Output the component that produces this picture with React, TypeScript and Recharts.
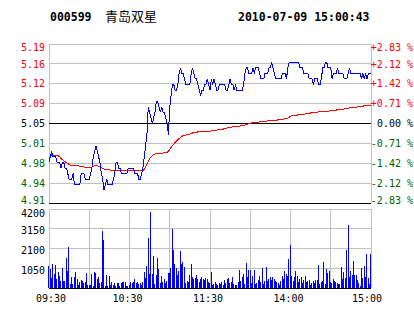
import { LineChart, Line, BarChart, Bar, XAxis, YAxis, CartesianGrid, ReferenceLine } from 'recharts'

const stockCode = '000599'
const stockName = '青岛双星'
const stamp = '2010-07-09 15:00:43'
const prevClose = 5.05

const pctTicks = [-2.83, -2.12, -1.42, -0.71, 0, 0.71, 1.42, 2.12, 2.83]
const volTicks = [0, 1050, 2100, 3150, 4200]
const timeTicks = [0, 30, 60, 90, 120, 150, 180, 210, 240]
const timeLabels = ['09:30', '', '10:30', '', '11:30', '', '14:00', '', '15:00']

// one value per minute, 09:30 .. 11:30 / 13:00 .. 15:00
const price = [
  4.98, 4.99, 5.00, 4.99, 4.99, 4.99, 4.98, 4.98, 4.98, 4.97,
  4.98, 4.98, 4.97, 4.97, 4.96, 4.95, 4.95, 4.95, 4.96, 4.94,
  4.94, 4.94, 4.94, 4.94, 4.96, 4.96, 4.96, 4.95, 4.95, 4.95,
  4.95, 4.96, 4.97, 4.99, 5.00, 5.01, 5.00, 4.99, 4.98, 4.96,
  4.95, 4.93, 4.94, 4.95, 4.94, 4.94, 4.94, 4.94, 4.95, 4.96,
  4.98, 4.98, 4.97, 4.97, 4.96, 4.96, 4.96, 4.96, 4.96, 4.97,
  4.97, 4.97, 4.97, 4.97, 4.96, 4.96, 4.96, 4.95, 4.95, 4.96,
  4.97, 4.99, 5.01, 5.03, 5.08, 5.07, 5.06, 5.05, 5.06, 5.07,
  5.09, 5.09, 5.08, 5.07, 5.08, 5.07, 5.07, 5.06, 5.05, 5.03,
  5.08, 5.10, 5.12, 5.12, 5.11, 5.11, 5.12, 5.14, 5.15, 5.14,
  5.14, 5.13, 5.12, 5.12, 5.12, 5.12, 5.14, 5.15, 5.14, 5.13,
  5.13, 5.12, 5.11, 5.10, 5.11, 5.11, 5.12, 5.12, 5.13, 5.12,
  5.11, 5.13, 5.12, 5.13, 5.12, 5.11, 5.11, 5.12, 5.12, 5.12,
  5.12, 5.12, 5.11, 5.11, 5.12, 5.13, 5.12, 5.12, 5.11, 5.12,
  5.11, 5.11, 5.11, 5.11, 5.11, 5.12, 5.14, 5.15, 5.15, 5.14,
  5.14, 5.14, 5.15, 5.14, 5.15, 5.15, 5.15, 5.14, 5.13, 5.13,
  5.13, 5.14, 5.14, 5.14, 5.15, 5.15, 5.16, 5.15, 5.14, 5.13,
  5.13, 5.13, 5.13, 5.13, 5.14, 5.14, 5.14, 5.13, 5.15, 5.16,
  5.16, 5.16, 5.16, 5.16, 5.16, 5.16, 5.16, 5.15, 5.15, 5.15,
  5.14, 5.14, 5.14, 5.14, 5.13, 5.13, 5.13, 5.12, 5.13, 5.13,
  5.13, 5.12, 5.12, 5.13, 5.15, 5.15, 5.16, 5.16, 5.15, 5.15,
  5.15, 5.13, 5.14, 5.14, 5.14, 5.15, 5.14, 5.14, 5.14, 5.14,
  5.13, 5.13, 5.13, 5.14, 5.15, 5.14, 5.14, 5.14, 5.14, 5.14,
  5.14, 5.14, 5.14, 5.13, 5.14, 5.13, 5.14, 5.13, 5.14, 5.14,
  5.14,
]

const avgPrice = [
  4.985, 4.990, 4.994, 4.993, 4.993, 4.993, 4.993, 4.992, 4.990, 4.987,
  4.985, 4.983, 4.981, 4.980, 4.978, 4.976, 4.975, 4.974, 4.974, 4.974,
  4.974, 4.974, 4.974, 4.973, 4.973, 4.973, 4.972, 4.971, 4.971, 4.971,
  4.971, 4.971, 4.972, 4.973, 4.974, 4.974, 4.974, 4.973, 4.972, 4.971,
  4.969, 4.968, 4.967, 4.967, 4.967, 4.967, 4.966, 4.965, 4.965, 4.965,
  4.965, 4.965, 4.965, 4.965, 4.965, 4.965, 4.965, 4.965, 4.965, 4.965,
  4.965, 4.965, 4.965, 4.965, 4.965, 4.965, 4.965, 4.965, 4.965, 4.965,
  4.965, 4.968, 4.972, 4.977, 4.982, 4.987, 4.990, 4.992, 4.994, 4.995,
  4.996, 4.996, 4.996, 4.996, 4.996, 4.997, 4.997, 4.997, 4.998, 5.000,
  5.003, 5.007, 5.010, 5.013, 5.016, 5.018, 5.021, 5.023, 5.025, 5.027,
  5.028, 5.029, 5.029, 5.030, 5.030, 5.031, 5.032, 5.033, 5.033, 5.034,
  5.034, 5.035, 5.036, 5.036, 5.036, 5.036, 5.036, 5.036, 5.036, 5.036,
  5.036, 5.037, 5.037, 5.038, 5.038, 5.038, 5.039, 5.039, 5.040, 5.040,
  5.040, 5.041, 5.041, 5.042, 5.042, 5.043, 5.043, 5.044, 5.044, 5.044,
  5.045, 5.045, 5.045, 5.046, 5.046, 5.047, 5.047, 5.048, 5.049, 5.050,
  5.050, 5.051, 5.051, 5.051, 5.052, 5.052, 5.052, 5.053, 5.053, 5.053,
  5.054, 5.054, 5.054, 5.055, 5.055, 5.055, 5.055, 5.056, 5.056, 5.056,
  5.056, 5.057, 5.057, 5.057, 5.058, 5.058, 5.059, 5.059, 5.060, 5.061,
  5.063, 5.064, 5.064, 5.065, 5.065, 5.065, 5.066, 5.066, 5.066, 5.067,
  5.067, 5.067, 5.068, 5.068, 5.068, 5.069, 5.069, 5.069, 5.070, 5.070,
  5.070, 5.071, 5.071, 5.071, 5.071, 5.072, 5.072, 5.072, 5.072, 5.073,
  5.073, 5.074, 5.074, 5.074, 5.074, 5.075, 5.075, 5.075, 5.076, 5.076,
  5.076, 5.077, 5.077, 5.077, 5.078, 5.078, 5.078, 5.079, 5.079, 5.079,
  5.080, 5.080, 5.080, 5.081, 5.081, 5.082, 5.082, 5.082, 5.083, 5.083,
  5.083,
]

const volume = [
  1150, 1000, 510, 1270, 740, 1220, 480, 830, 650, 390,
  1050, 390, 380, 1575, 920, 2160, 210, 570, 210, 570,
  830, 480, 160, 300, 440, 390, 260, 300, 800, 160,
  160, 160, 740, 90, 830, 800, 480, 570, 260, 300,
  3030, 2550, 120, 690, 90, 650, 160, 340, 160, 260,
  90, 260, 260, 120, 260, 340, 340, 340, 120, 120,
  150, 340, 260, 340, 480, 260, 340, 210, 260, 160,
  300, 830, 510, 1150, 2640, 740, 4050, 740, 1680, 210,
  690, 1580, 1010, 260, 650, 340, 480, 260, 390, 800,
  800, 1050, 3130, 2035, 1270, 1050, 690, 920, 1980, 1270,
  1400, 1100, 260, 390, 300, 690, 1270, 570, 480, 510,
  690, 480, 300, 480, 570, 480, 440, 510, 480, 340,
  260, 870, 160, 210, 300, 210, 160, 260, 210, 340,
  160, 440, 260, 480, 510, 260, 300, 570, 210, 160,
  160, 340, 970, 390, 570, 740, 210, 1330, 570, 970,
  970, 260, 650, 970, 210, 260, 440, 650, 300, 1040,
  210, 390, 1100, 390, 480, 570, 440, 570, 480, 390,
  300, 260, 160, 390, 650, 480, 920, 740, 650, 1540,
  2280, 650, 390, 570, 920, 650, 300, 480, 570, 260,
  440, 650, 300, 390, 440, 160, 260, 390, 260, 440,
  440, 1220, 210, 300, 390, 1400, 210, 1010, 800, 920,
  340, 260, 480, 390, 340, 260, 210, 210, 1100, 480,
  870, 510, 2035, 3345, 570, 920, 690, 1450, 690, 690,
  440, 260, 120, 1040, 510, 1150, 570, 1800, 510, 210,
  1800,
]

const RED = '#ff0000'
const GREEN = '#006400'
const BLUE = '#0000ff'
const GRID = '#c0c0c0'
const MONO = '"DejaVu Sans Mono", "Liberation Mono", monospace'
const CRISP = 'crispEdges'

const priceTicks = pctTicks.map(p => prevClose * (1 + p / 100))
const data = price.map((p, i) => ({ t: i, price: p, avg: avgPrice[i], vol: volume[i] }))

const tone = (pct: number) => (pct > 0 ? RED : pct < 0 ? GREEN : '#000')

function tickIndex(v: number) {
  return priceTicks.findIndex(p => Math.abs(p - v) < 1e-6)
}

// top/bottom labels are kept inside the plot frame
function edgeShift(i: number) {
  if (i === 0) return -3
  if (i === pctTicks.length - 1) return 3
  return 0
}

function PriceTick({ x, y, payload }: any) {
  const i = tickIndex(payload.value)
  return (
    <text x={x} y={y + edgeShift(i)} dy="0.36em" textAnchor="end" fill={tone(pctTicks[i])}
      fontSize={10} fontFamily={MONO}>
      {payload.value.toFixed(2)}
    </text>
  )
}

function PctTick({ x, y, payload }: any) {
  const i = tickIndex(payload.value)
  const p = pctTicks[i]
  const label = `${p > 0 ? '+' : ''}${p.toFixed(2)} %`
  return (
    <text x={x + 42} y={y + edgeShift(i)} dy="0.36em" textAnchor="end" fill={tone(p)}
      fontSize={10} fontFamily={MONO}>
      {label}
    </text>
  )
}

function VolTick({ x, y, payload }: any) {
  if (payload.value === 0) return null
  const top = payload.value === volTicks[volTicks.length - 1]
  return (
    <text x={x} y={y + (top ? 4 : 2)} dy="0.36em" textAnchor="end" fill="#000"
      fontSize={10} fontFamily={MONO}>
      {payload.value}
    </text>
  )
}

function TimeTick({ x, y, payload }: any) {
  const i = timeTicks.indexOf(payload.value)
  const label = timeLabels[i]
  if (!label) return null
  const nudge = i === 0 ? 2 : i === timeTicks.length - 1 ? -4 : -2
  return (
    <text x={x + nudge} y={y + 10} dy="0.36em" textAnchor="middle" fill="#000"
      fontSize={10} fontFamily={MONO}>
      {label}
    </text>
  )
}

function VolBar({ x, y, width, height }: any) {
  if (!height) return null
  return <rect x={x} y={y} width={width} height={height} fill={BLUE} shapeRendering={CRISP} />
}

export default function App() {
  return (
    <div style={{ position: 'absolute', left: 0, top: 0, width: 414, height: 314, background: '#fff', overflow: 'hidden' }}>
      <svg width={414} height={40} style={{ position: 'absolute', left: 0, top: 0 }}>
        <text x={50} y={20.5} fontSize={11.5} fontWeight="bold" fontFamily={MONO} fill="#000">{stockCode}</text>
        <text x={105} y={21} fontSize={13} fontFamily='"Noto Sans CJK SC", sans-serif' fill="#000">{stockName}</text>
        <text x={238} y={20.5} fontSize={11.5} fontWeight="bold" fontFamily={MONO} fill="#000">{stamp}</text>
      </svg>

      <div style={{ position: 'absolute', left: 0, top: 0 }}>
        <LineChart width={414} height={210} data={data} margin={{ top: 44, right: 0, bottom: 7, left: 0 }}>
          <CartesianGrid stroke={GRID} yAxisId="price" shapeRendering={CRISP} />
          <XAxis type="number" dataKey="t" domain={[0, 240]} ticks={timeTicks} height={0}
            tick={false} tickLine={false} axisLine={false} />
          <YAxis yAxisId="price" domain={[priceTicks[0], priceTicks[priceTicks.length - 1]]}
            ticks={priceTicks} width={49} tickSize={0} tickMargin={4} tickLine={false} axisLine={false}
            tick={<PriceTick />} interval={0} />
          <YAxis yAxisId="pct" orientation="right" domain={[priceTicks[0], priceTicks[priceTicks.length - 1]]}
            ticks={priceTicks} width={43} tickSize={0} tickMargin={0} tickLine={false} axisLine={false}
            tick={<PctTick />} interval={0} />
          <ReferenceLine yAxisId="price" y={prevClose} stroke="#000" shapeRendering={CRISP} />
          <ReferenceLine yAxisId="price" y={priceTicks[0]} stroke="#000" shapeRendering={CRISP} />
          <Line yAxisId="price" dataKey="avg" stroke={RED} strokeWidth={1} dot={false}
            isAnimationActive={false} type="linear" shapeRendering={CRISP} />
          <Line yAxisId="price" dataKey="price" stroke={BLUE} strokeWidth={1} dot={false}
            isAnimationActive={false} type="linear" shapeRendering={CRISP} />
          <Line yAxisId="pct" dataKey="avg" stroke="none" dot={false} isAnimationActive={false} />
        </LineChart>
      </div>

      <div style={{ position: 'absolute', left: 0, top: 200 }}>
        <BarChart width={414} height={114} data={data} margin={{ top: 9, right: 43, bottom: 0, left: 0 }}>
          <CartesianGrid stroke={GRID} shapeRendering={CRISP} />
          <XAxis type="number" dataKey="t" domain={[0, 240]} ticks={timeTicks} height={26}
            tickSize={0} tickMargin={0} tickLine={false} axisLine={false} tick={<TimeTick />} interval={0} />
          <YAxis domain={[0, 4200]} ticks={volTicks} width={49} tickSize={0} tickMargin={4}
            tickLine={false} axisLine={false} tick={<VolTick />} interval={0} />
          <Bar dataKey="vol" barSize={1} shape={<VolBar />} isAnimationActive={false} />
          <ReferenceLine y={0} stroke="#000" shapeRendering={CRISP} />
        </BarChart>
      </div>
    </div>
  )
}
